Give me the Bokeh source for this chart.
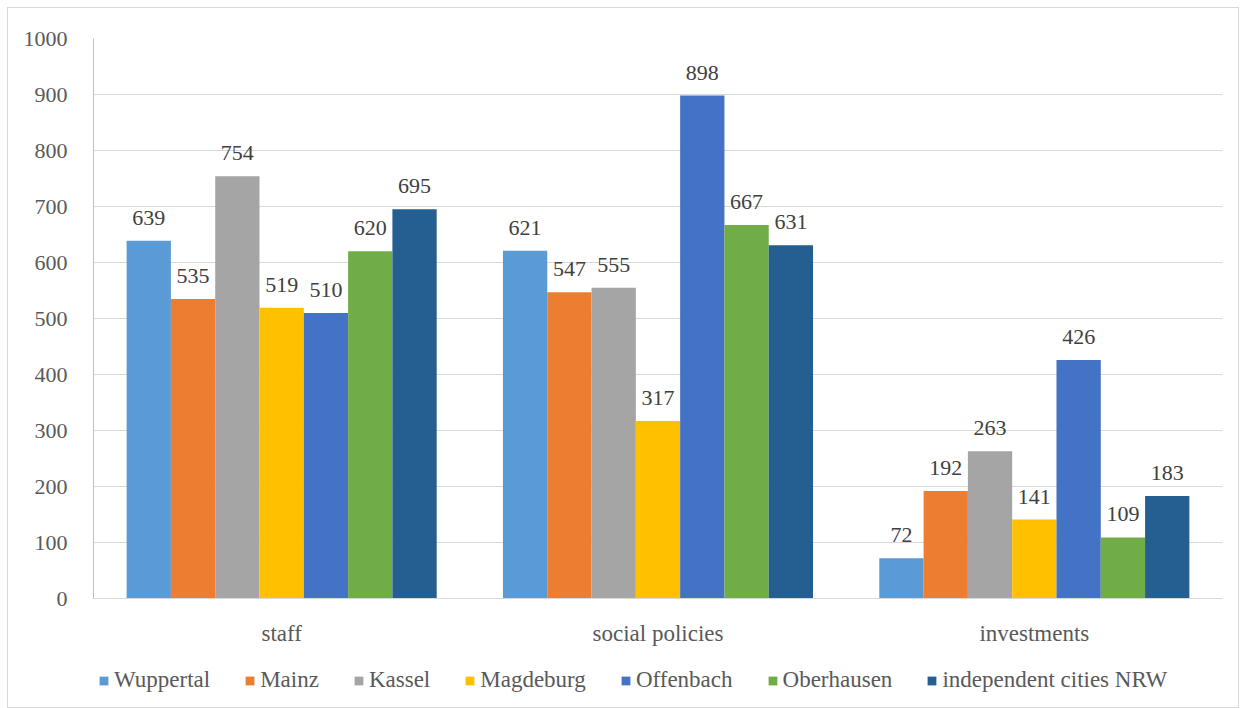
from bokeh.plotting import figure
from bokeh.models import ColumnDataSource, FactorRange, Range1d, Legend, LegendItem
from bokeh.layouts import column
from bokeh.transform import dodge
from bokeh.core.properties import value
from bokeh.embed import file_html
from bokeh.resources import INLINE

categories = ["staff", "social policies", "investments"]
series_names = ["Wuppertal", "Mainz", "Kassel", "Magdeburg", "Offenbach", "Oberhausen", "independent cities NRW"]
wuppertal = [639, 621, 72]
mainz = [535, 547, 192]
kassel = [754, 555, 263]
magdeburg = [519, 317, 141]
offenbach = [510, 898, 426]
oberhausen = [620, 667, 109]
nrw = [695, 631, 183]
series_values = [wuppertal, mainz, kassel, magdeburg, offenbach, oberhausen, nrw]
colors = ["#5B9BD5", "#ED7D31", "#A5A5A5", "#FFC000", "#4472C4", "#70AD47", "#255E91"]
y_ticks = list(range(0, 1001, 100))

FONT = "Liberation Serif"

p = figure(x_range=FactorRange(*categories), y_range=Range1d(0, 1000),
           frame_width=1129, frame_height=560, output_backend="svg", toolbar_location=None,
           min_border_left=85, min_border_right=16, min_border_top=30, min_border_bottom=52)
p.outline_line_color = None
p.background_fill_color = "white"
p.border_fill_color = "white"

bar_w = 0.1177
for i, (name, vals, col) in enumerate(zip(series_names, series_values, colors)):
    src = ColumnDataSource(dict(cat=categories, val=vals, lab=[str(v) for v in vals]))
    off = (i - 3) * bar_w
    p.vbar(x=dodge("cat", off, range=p.x_range), top="val", width=bar_w, source=src,
           fill_color=col, line_color=None)
    p.text(x=dodge("cat", off, range=p.x_range), y="val", text="lab", source=src,
           text_align="center", text_baseline="bottom", y_offset=-16,
           text_font=value(FONT), text_font_size="22px", text_color="#404040")

# axes
p.yaxis.ticker = y_ticks
p.yaxis.major_tick_line_color = None
p.yaxis.minor_tick_line_color = None
p.yaxis.axis_line_color = "#bfbfbf"
p.yaxis.major_label_text_font = FONT
p.yaxis.major_label_text_font_size = "22px"
p.yaxis.major_label_text_color = "#595959"
p.yaxis.major_label_standoff = 20

p.xaxis.major_tick_line_color = None
p.xaxis.axis_line_color = "#d9d9d9"
p.xaxis.major_label_text_font = FONT
p.xaxis.major_label_text_font_size = "23px"
p.xaxis.major_label_text_color = "#595959"
p.xaxis.major_label_standoff = 16

p.xgrid.grid_line_color = None
p.ygrid.grid_line_color = "#d9d9d9"
p.ygrid.ticker = y_ticks

# legend strip below the chart (its renderers hold the series' own values, off-view)
lf = figure(width=1230, height=57, output_backend="svg", toolbar_location=None,
            x_axis_type=None, y_axis_type=None, x_range=Range1d(0, 1), y_range=Range1d(-1, 0),
            min_border=0)
lf.outline_line_color = None
lf.xgrid.grid_line_color = None
lf.ygrid.grid_line_color = None
items = []
for name, col, vals in zip(series_names, colors, series_values):
    r = lf.vbar(x=[0.5] * len(vals), top=vals, bottom=vals, width=0.0, fill_color=col, line_color=None)
    items.append(LegendItem(label=name, renderers=[r]))
legend = Legend(items=items, orientation="horizontal", location=(5, 14),
                label_text_font=FONT, label_text_font_size="23px", label_text_color="#595959",
                glyph_width=11, glyph_height=11, label_standoff=5, spacing=34, label_height=22,
                padding=0, margin=0, border_line_color=None, background_fill_alpha=0)
lf.add_layout(legend, "center")

layout = column(p, lf, spacing=0, margin=(8, 0, 0, 8), styles={"outline": "1.5px solid #d9d9d9"})

open("out.html", "w").write(file_html(layout, INLINE))
